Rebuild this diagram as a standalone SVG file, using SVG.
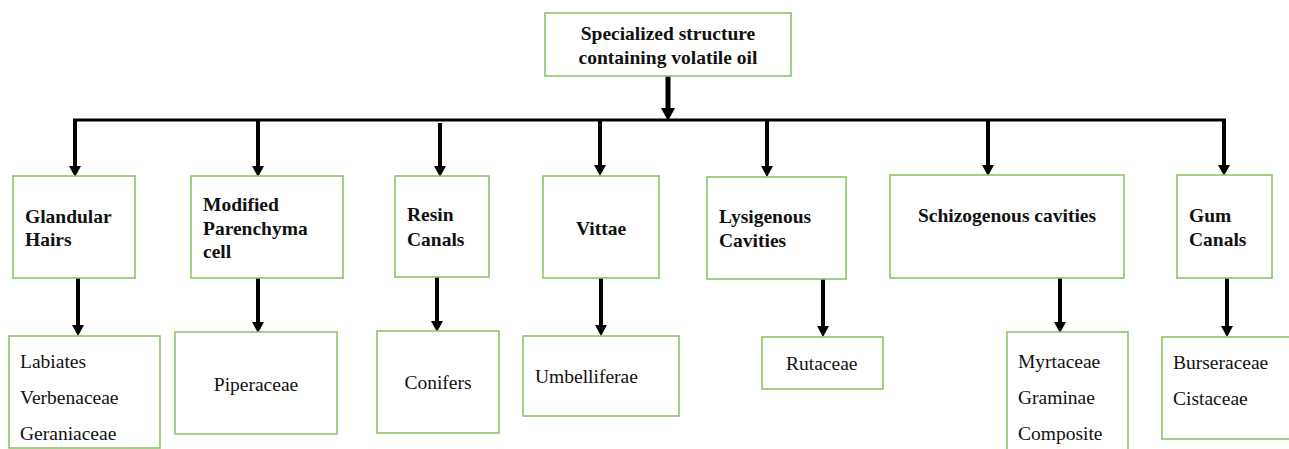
<svg xmlns="http://www.w3.org/2000/svg" width="1289" height="449" viewBox="0 0 1289 449">
<style>
.box{fill:#fff;stroke:#8cc26a;stroke-width:1.6}
.b{font-family:"Liberation Serif","Times New Roman",serif;font-weight:bold;font-size:19.5px;fill:#111}
.r{font-family:"Liberation Serif","Times New Roman",serif;font-size:19.5px;fill:#111}
.c{text-anchor:middle}
.ln{stroke:#000;stroke-width:4;fill:none}
</style>
<defs>
<marker id="ah" markerUnits="userSpaceOnUse" viewBox="0 0 11 12" markerWidth="11" markerHeight="12" refX="1" refY="6" orient="auto">
<path d="M0,0 L11,6 L0,12 z" fill="#000"/>
</marker>
<marker id="ahb" markerUnits="userSpaceOnUse" viewBox="0 0 13 14" markerWidth="13" markerHeight="14" refX="1" refY="7" orient="auto">
<path d="M0,0 L13,7 L0,14 z" fill="#000"/>
</marker>
</defs>
<g id="connectors">
<line x1="668" y1="76" x2="668" y2="109" stroke="#000" stroke-width="5" marker-end="url(#ahb)"/>
<line x1="73" y1="120" x2="1226" y2="120" stroke="#000" stroke-width="3"/>
<line class="ln" x1="75" y1="119" x2="75" y2="167" marker-end="url(#ah)"/>
<line class="ln" x1="258" y1="120" x2="258" y2="167" marker-end="url(#ah)"/>
<line class="ln" x1="440" y1="123" x2="440" y2="167" marker-end="url(#ah)"/>
<line class="ln" x1="600" y1="120" x2="600" y2="166" marker-end="url(#ah)"/>
<line class="ln" x1="767" y1="120" x2="767" y2="167" marker-end="url(#ah)"/>
<line class="ln" x1="988" y1="120" x2="988" y2="166" marker-end="url(#ah)"/>
<line class="ln" x1="1224" y1="119" x2="1224" y2="166" marker-end="url(#ah)"/>
<line class="ln" x1="78" y1="278" x2="78" y2="326" marker-end="url(#ah)"/>
<line class="ln" x1="258" y1="275" x2="258" y2="323" marker-end="url(#ah)"/>
<line class="ln" x1="437" y1="275" x2="437" y2="322" marker-end="url(#ah)"/>
<line class="ln" x1="601" y1="278" x2="601" y2="326" marker-end="url(#ah)"/>
<line class="ln" x1="823" y1="279" x2="823" y2="327" marker-end="url(#ah)"/>
<line class="ln" x1="1060" y1="278" x2="1060" y2="323" marker-end="url(#ah)"/>
<line class="ln" x1="1227" y1="278" x2="1227" y2="327" marker-end="url(#ah)"/>
</g>
<g id="root">
<rect class="box" x="545" y="13" width="246" height="63"/>
<text class="b c" x="668" y="40">Specialized structure</text>
<text class="b c" x="668" y="64">containing volatile oil</text>
</g>
<g id="glandular">
<rect class="box" x="13" y="176" width="122" height="102"/>
<text class="b" x="25" y="223">Glandular</text>
<text class="b" x="25" y="246">Hairs</text>
</g>
<g id="parenchyma">
<rect class="box" x="191" y="176" width="152" height="102"/>
<text class="b" x="203" y="211">Modified</text>
<text class="b" x="203" y="235">Parenchyma</text>
<text class="b" x="203" y="258">cell</text>
</g>
<g id="resin">
<rect class="box" x="395" y="176" width="94" height="101"/>
<text class="b" x="407" y="221">Resin</text>
<text class="b" x="407" y="246">Canals</text>
</g>
<g id="vittae">
<rect class="box" x="543" y="176" width="116" height="102"/>
<text class="b c" x="601" y="235">Vittae</text>
</g>
<g id="lysigenous">
<rect class="box" x="707" y="177" width="139" height="102"/>
<text class="b" x="719" y="223">Lysigenous</text>
<text class="b" x="719" y="247">Cavities</text>
</g>
<g id="schizogenous">
<rect class="box" x="890" y="175" width="234" height="103"/>
<text class="b c" x="1007" y="222">Schizogenous cavities</text>
</g>
<g id="gum">
<rect class="box" x="1177" y="175" width="95" height="103"/>
<text class="b" x="1189" y="222">Gum</text>
<text class="b" x="1189" y="246">Canals</text>
</g>
<g id="labiates">
<rect class="box" x="9" y="336" width="151" height="112"/>
<text class="r" x="20" y="368">Labiates</text>
<text class="r" x="20" y="404">Verbenaceae</text>
<text class="r" x="20" y="440">Geraniaceae</text>
</g>
<g id="piperaceae">
<rect class="box" x="175" y="332" width="162" height="102"/>
<text class="r c" x="256" y="391">Piperaceae</text>
</g>
<g id="conifers">
<rect class="box" x="377" y="331" width="122" height="102"/>
<text class="r c" x="438" y="389">Conifers</text>
</g>
<g id="umbelliferae">
<rect class="box" x="523" y="336" width="156" height="80"/>
<text class="r" x="535" y="383">Umbelliferae</text>
</g>
<g id="rutaceae">
<rect class="box" x="762" y="337" width="121" height="52"/>
<text class="r" x="786" y="370">Rutaceae</text>
</g>
<g id="myrtaceae">
<rect class="box" x="1007" y="332" width="121" height="130"/>
<text class="r" x="1018" y="368">Myrtaceae</text>
<text class="r" x="1018" y="404">Graminae</text>
<text class="r" x="1018" y="440">Composite</text>
</g>
<g id="burseraceae">
<rect class="box" x="1162" y="337" width="140" height="102"/>
<text class="r" x="1173" y="369">Burseraceae</text>
<text class="r" x="1173" y="405">Cistaceae</text>
</g>
</svg>
